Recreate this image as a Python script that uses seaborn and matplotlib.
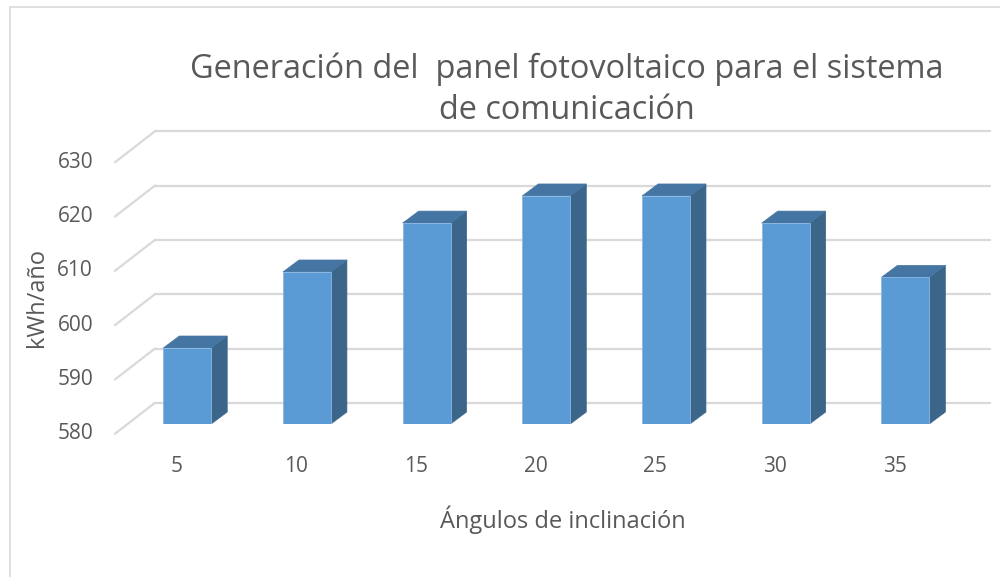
import numpy as np
import pandas as pd
import matplotlib
matplotlib.use("Agg")
import matplotlib.pyplot as plt
from matplotlib.patches import Polygon
from matplotlib.lines import Line2D
import seaborn as sns

# data
angles = ["5", "10", "15", "20", "25", "30", "35"]
generation = [594, 608, 617, 622, 622, 617, 607]
y_ticks = [580, 590, 600, 610, 620, 630]

title = "Generación del  panel fotovoltaico para el sistema\nde comunicación"
x_label = "Ángulos de inclinación"
y_label = "kWh/año"

# colours
FRONT = "#5b9bd5"
SIDE = "#3b6589"
TOP = "#4576a3"
GRID = "#d9d9d9"
TEXT = "#595959"

# fake 3d geometry (data units)
BAR_W = 0.4
DX, DY = 0.134, 2.2          # bar depth
WALL_DY = 3.9                # back wall offset above the bar plane
WALL_X0, WALL_X1 = -0.27, 6.71
FRONT_X, FRONT_DY = -0.604, -1.8

sns.set_theme(style="white")
plt.rcParams["font.family"] = ["Open Sans", "DejaVu Sans"]

df = pd.DataFrame({"angle": angles, "kwh": generation})

fig = plt.figure(figsize=(10, 5.77), dpi=100)
ax = fig.add_axes([0.1274, 0.2652, 0.8378, 0.5176])

# back wall gridlines + floor diagonals
for v in y_ticks:
    ax.plot([WALL_X0, WALL_X1], [v + WALL_DY, v + WALL_DY], color=GRID,
            lw=1.6, clip_on=False, zorder=1)
    ax.plot([FRONT_X, WALL_X0], [v + FRONT_DY, v + WALL_DY], color=GRID,
            lw=1.6, clip_on=False, zorder=1)

sns.barplot(data=df, x="angle", y="kwh", order=angles, color=FRONT,
            width=BAR_W, saturation=1, ax=ax, zorder=3,
            edgecolor="#8db6e3", linewidth=0.6)

# side and top faces built from each bar
for p in list(ax.patches):
    x0 = p.get_x()
    x1 = x0 + p.get_width()
    h = p.get_height()
    b = 580
    side = Polygon([(x1, b), (x1 + DX, b + DY), (x1 + DX, h + DY), (x1, h)],
                   closed=True, facecolor=SIDE, edgecolor=SIDE, lw=0.5, zorder=2)
    top = Polygon([(x0, h), (x0 + DX, h + DY), (x1 + DX, h + DY), (x1, h)],
                  closed=True, facecolor=TOP, edgecolor=TOP, lw=0.5, zorder=2)
    ax.add_patch(side)
    ax.add_patch(top)

for s in ax.spines.values():
    s.set_visible(False)

# value labels sit at the front ends of the floor diagonals
ax.set_yticks([])
ytr = ax.get_yaxis_transform()
for v in y_ticks:
    ax.text(-0.041, v + FRONT_DY, str(v), transform=ytr, ha="right",
            va="center", fontsize=15, color=TEXT, clip_on=False)

ax.set_xticks(np.arange(len(angles)) - 0.09)
ax.set_xticklabels(angles)
ax.tick_params(axis="x", length=0, pad=23, labelsize=15, labelcolor=TEXT)

ax.set_ylim(580, 635)
ax.set_xlim(-0.5, 6.5)

ax.set_xlabel(x_label, fontsize=17, color=TEXT)
ax.set_ylabel(y_label, fontsize=17, color=TEXT)
ax.xaxis.set_label_coords(0.52, -0.321)
ax.xaxis.label.set_va("center")
ax.yaxis.set_label_coords(-0.108, 0.422)
ax.yaxis.label.set_va("center")

fig.text(0.567, 1 - 90 / 577, title, ha="center", va="center",
         fontsize=23.4, color=TEXT, linespacing=1.3)

# chart area border (only left and top are visible in the crop)
fig.add_artist(Line2D([0.010, 0.010], [0, 1 - 7 / 577], color=GRID, lw=1.2))
fig.add_artist(Line2D([0.010, 1.0], [1 - 7 / 577, 1 - 7 / 577], color=GRID, lw=1.2))

fig.savefig("out.png", dpi=100)
